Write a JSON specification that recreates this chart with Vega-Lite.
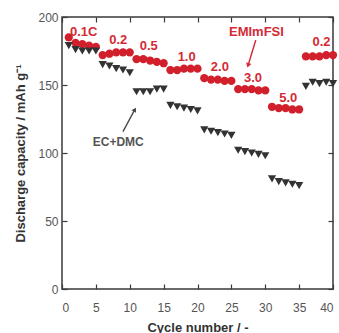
{
  "$schema": "https://vega.github.io/schema/vega-lite/v6.json",
  "width": 271,
  "height": 272,
  "autosize": {"type": "none"},
  "padding": {"left": 62, "top": 17, "right": 6, "bottom": 44},
  "background": "white",
  "config": {
    "font": "Liberation Sans",
    "view": {"stroke": "#3a3a3a", "strokeWidth": 1.5},
    "axis": {
      "grid": false,
      "domain": false,
      "tickColor": "#3a3a3a",
      "tickWidth": 1.2,
      "tickSize": -5,
      "labelFont": "Liberation Sans",
      "labelFontSize": 12,
      "labelColor": "#555555",
      "titleFont": "Liberation Sans",
      "titleFontSize": 13,
      "titleFontWeight": "bold",
      "titleColor": "#333333"
    }
  },
  "datasets": {
    "cap": [
      {"cycle": 1, "capacity": 185, "electrolyte": "EMImFSI"},
      {"cycle": 2, "capacity": 181, "electrolyte": "EMImFSI"},
      {"cycle": 3, "capacity": 180, "electrolyte": "EMImFSI"},
      {"cycle": 4, "capacity": 179, "electrolyte": "EMImFSI"},
      {"cycle": 5, "capacity": 178, "electrolyte": "EMImFSI"},
      {"cycle": 6, "capacity": 172, "electrolyte": "EMImFSI"},
      {"cycle": 7, "capacity": 173, "electrolyte": "EMImFSI"},
      {"cycle": 8, "capacity": 174, "electrolyte": "EMImFSI"},
      {"cycle": 9, "capacity": 174, "electrolyte": "EMImFSI"},
      {"cycle": 10, "capacity": 174, "electrolyte": "EMImFSI"},
      {"cycle": 11, "capacity": 169, "electrolyte": "EMImFSI"},
      {"cycle": 12, "capacity": 169, "electrolyte": "EMImFSI"},
      {"cycle": 13, "capacity": 168, "electrolyte": "EMImFSI"},
      {"cycle": 14, "capacity": 167, "electrolyte": "EMImFSI"},
      {"cycle": 15, "capacity": 166, "electrolyte": "EMImFSI"},
      {"cycle": 16, "capacity": 161, "electrolyte": "EMImFSI"},
      {"cycle": 17, "capacity": 161, "electrolyte": "EMImFSI"},
      {"cycle": 18, "capacity": 162, "electrolyte": "EMImFSI"},
      {"cycle": 19, "capacity": 162, "electrolyte": "EMImFSI"},
      {"cycle": 20, "capacity": 162, "electrolyte": "EMImFSI"},
      {"cycle": 21, "capacity": 155, "electrolyte": "EMImFSI"},
      {"cycle": 22, "capacity": 154, "electrolyte": "EMImFSI"},
      {"cycle": 23, "capacity": 154, "electrolyte": "EMImFSI"},
      {"cycle": 24, "capacity": 153, "electrolyte": "EMImFSI"},
      {"cycle": 25, "capacity": 153, "electrolyte": "EMImFSI"},
      {"cycle": 26, "capacity": 147, "electrolyte": "EMImFSI"},
      {"cycle": 27, "capacity": 147, "electrolyte": "EMImFSI"},
      {"cycle": 28, "capacity": 147, "electrolyte": "EMImFSI"},
      {"cycle": 29, "capacity": 146, "electrolyte": "EMImFSI"},
      {"cycle": 30, "capacity": 146, "electrolyte": "EMImFSI"},
      {"cycle": 31, "capacity": 134, "electrolyte": "EMImFSI"},
      {"cycle": 32, "capacity": 133, "electrolyte": "EMImFSI"},
      {"cycle": 33, "capacity": 133, "electrolyte": "EMImFSI"},
      {"cycle": 34, "capacity": 132, "electrolyte": "EMImFSI"},
      {"cycle": 35, "capacity": 132, "electrolyte": "EMImFSI"},
      {"cycle": 36, "capacity": 171, "electrolyte": "EMImFSI"},
      {"cycle": 37, "capacity": 171, "electrolyte": "EMImFSI"},
      {"cycle": 38, "capacity": 171, "electrolyte": "EMImFSI"},
      {"cycle": 39, "capacity": 172, "electrolyte": "EMImFSI"},
      {"cycle": 40, "capacity": 172, "electrolyte": "EMImFSI"},
      {"cycle": 1, "capacity": 179, "electrolyte": "EC+DMC"},
      {"cycle": 2, "capacity": 176, "electrolyte": "EC+DMC"},
      {"cycle": 3, "capacity": 175, "electrolyte": "EC+DMC"},
      {"cycle": 4, "capacity": 175, "electrolyte": "EC+DMC"},
      {"cycle": 5, "capacity": 175, "electrolyte": "EC+DMC"},
      {"cycle": 6, "capacity": 165, "electrolyte": "EC+DMC"},
      {"cycle": 7, "capacity": 164, "electrolyte": "EC+DMC"},
      {"cycle": 8, "capacity": 162, "electrolyte": "EC+DMC"},
      {"cycle": 9, "capacity": 161, "electrolyte": "EC+DMC"},
      {"cycle": 10, "capacity": 159, "electrolyte": "EC+DMC"},
      {"cycle": 11, "capacity": 145, "electrolyte": "EC+DMC"},
      {"cycle": 12, "capacity": 145, "electrolyte": "EC+DMC"},
      {"cycle": 13, "capacity": 145, "electrolyte": "EC+DMC"},
      {"cycle": 14, "capacity": 147, "electrolyte": "EC+DMC"},
      {"cycle": 15, "capacity": 147, "electrolyte": "EC+DMC"},
      {"cycle": 16, "capacity": 135, "electrolyte": "EC+DMC"},
      {"cycle": 17, "capacity": 134, "electrolyte": "EC+DMC"},
      {"cycle": 18, "capacity": 133, "electrolyte": "EC+DMC"},
      {"cycle": 19, "capacity": 132, "electrolyte": "EC+DMC"},
      {"cycle": 20, "capacity": 131, "electrolyte": "EC+DMC"},
      {"cycle": 21, "capacity": 117, "electrolyte": "EC+DMC"},
      {"cycle": 22, "capacity": 116, "electrolyte": "EC+DMC"},
      {"cycle": 23, "capacity": 115, "electrolyte": "EC+DMC"},
      {"cycle": 24, "capacity": 114, "electrolyte": "EC+DMC"},
      {"cycle": 25, "capacity": 113, "electrolyte": "EC+DMC"},
      {"cycle": 26, "capacity": 102, "electrolyte": "EC+DMC"},
      {"cycle": 27, "capacity": 101, "electrolyte": "EC+DMC"},
      {"cycle": 28, "capacity": 100, "electrolyte": "EC+DMC"},
      {"cycle": 29, "capacity": 99, "electrolyte": "EC+DMC"},
      {"cycle": 30, "capacity": 98, "electrolyte": "EC+DMC"},
      {"cycle": 31, "capacity": 81, "electrolyte": "EC+DMC"},
      {"cycle": 32, "capacity": 79, "electrolyte": "EC+DMC"},
      {"cycle": 33, "capacity": 78, "electrolyte": "EC+DMC"},
      {"cycle": 34, "capacity": 77, "electrolyte": "EC+DMC"},
      {"cycle": 35, "capacity": 76, "electrolyte": "EC+DMC"},
      {"cycle": 36, "capacity": 149, "electrolyte": "EC+DMC"},
      {"cycle": 37, "capacity": 152, "electrolyte": "EC+DMC"},
      {"cycle": 38, "capacity": 151, "electrolyte": "EC+DMC"},
      {"cycle": 39, "capacity": 152, "electrolyte": "EC+DMC"},
      {"cycle": 40, "capacity": 151, "electrolyte": "EC+DMC"}
    ],
    "rateLabels": [
      {"cycle": 3.2, "capacity": 189, "label": "0.1C"},
      {"cycle": 8.3, "capacity": 183, "label": "0.2"},
      {"cycle": 12.8, "capacity": 179, "label": "0.5"},
      {"cycle": 18.4, "capacity": 170.5, "label": "1.0"},
      {"cycle": 23.3, "capacity": 163.5, "label": "2.0"},
      {"cycle": 28.2, "capacity": 155.4, "label": "3.0"},
      {"cycle": 33.4, "capacity": 140.7, "label": "5.0"},
      {"cycle": 38.3, "capacity": 181.4, "label": "0.2"},
      {"cycle": 28.7, "capacity": 188.7, "label": "EMImFSI"}
    ],
    "seriesLabels": [
      {"cycle": 8.3, "capacity": 108.3, "label": "EC+DMC"}
    ],
    "redArrow": [
      {"x1": 28.6, "y1": 183, "x2": 27.5, "y2": 165}
    ],
    "blackArrow": [
      {"x1": 9.0, "y1": 115.7, "x2": 10.7, "y2": 131.5}
    ]
  },
  "resolve": {"axis": {"x": "independent", "y": "independent"}},
  "layer": [
    {
      "data": {"name": "cap"},
      "mark": {"type": "point", "filled": true, "opacity": 1, "size": 68},
      "encoding": {
        "x": {
          "field": "cycle", "type": "quantitative",
          "scale": {"domain": [0, 40], "nice": false, "zero": false},
          "axis": {"values": [0, 5, 10, 15, 20, 25, 30, 35, 40], "title": "Cycle number / -", "labelPadding": 18, "titlePadding": 8}
        },
        "y": {
          "field": "capacity", "type": "quantitative",
          "scale": {"domain": [0, 200], "nice": false},
          "axis": {"values": [0, 50, 100, 150, 200], "title": "Discharge capacity / mAh g⁻¹", "labelPadding": 9, "titleX": -42, "titleY": 136, "titleBaseline": "middle", "titleAlign": "center", "titleAngle": -90}
        },
        "color": {
          "field": "electrolyte", "type": "nominal",
          "scale": {"domain": ["EMImFSI", "EC+DMC"], "range": ["#d21f2c", "#333333"]},
          "legend": null
        },
        "shape": {
          "field": "electrolyte", "type": "nominal",
          "scale": {"domain": ["EMImFSI", "EC+DMC"], "range": ["circle", "triangle-down"]},
          "legend": null
        }
      }
    },
    {
      "data": {"name": "rateLabels"},
      "mark": {"type": "text", "font": "Liberation Sans", "fontWeight": "bold", "fontSize": 13, "color": "#d42a36"},
      "encoding": {
        "x": {"field": "cycle", "type": "quantitative", "axis": {"orient": "top", "values": [0, 5, 10, 15, 20, 25, 30, 35, 40], "labels": false, "title": null}},
        "y": {"field": "capacity", "type": "quantitative", "axis": {"orient": "right", "values": [0, 50, 100, 150, 200], "labels": false, "title": null}},
        "text": {"field": "label"}
      }
    },
    {
      "data": {"name": "seriesLabels"},
      "mark": {"type": "text", "font": "Liberation Sans", "fontWeight": "bold", "fontSize": 12, "color": "#555555"},
      "encoding": {
        "x": {"field": "cycle", "type": "quantitative", "axis": null},
        "y": {"field": "capacity", "type": "quantitative", "axis": null},
        "text": {"field": "label"}
      }
    },
    {
      "data": {"name": "redArrow"},
      "mark": {"type": "rule", "color": "#d42a36", "strokeWidth": 1.5},
      "encoding": {
        "x": {"field": "x1", "type": "quantitative", "axis": null},
        "y": {"field": "y1", "type": "quantitative", "axis": null},
        "x2": {"field": "x2"},
        "y2": {"field": "y2"}
      }
    },
    {
      "data": {"name": "redArrow"},
      "mark": {"type": "point", "shape": "triangle", "filled": true, "opacity": 1, "size": 30, "angle": 197, "color": "#d42a36"},
      "encoding": {
        "x": {"field": "x2", "type": "quantitative", "axis": null},
        "y": {"field": "y2", "type": "quantitative", "axis": null}
      }
    },
    {
      "data": {"name": "blackArrow"},
      "mark": {"type": "rule", "color": "#444444", "strokeWidth": 1.3},
      "encoding": {
        "x": {"field": "x1", "type": "quantitative", "axis": null},
        "y": {"field": "y1", "type": "quantitative", "axis": null},
        "x2": {"field": "x2"},
        "y2": {"field": "y2"}
      }
    },
    {
      "data": {"name": "blackArrow"},
      "mark": {"type": "point", "shape": "triangle", "filled": true, "opacity": 1, "size": 25, "angle": 29, "color": "#444444"},
      "encoding": {
        "x": {"field": "x2", "type": "quantitative", "axis": null},
        "y": {"field": "y2", "type": "quantitative", "axis": null}
      }
    }
  ]
}
